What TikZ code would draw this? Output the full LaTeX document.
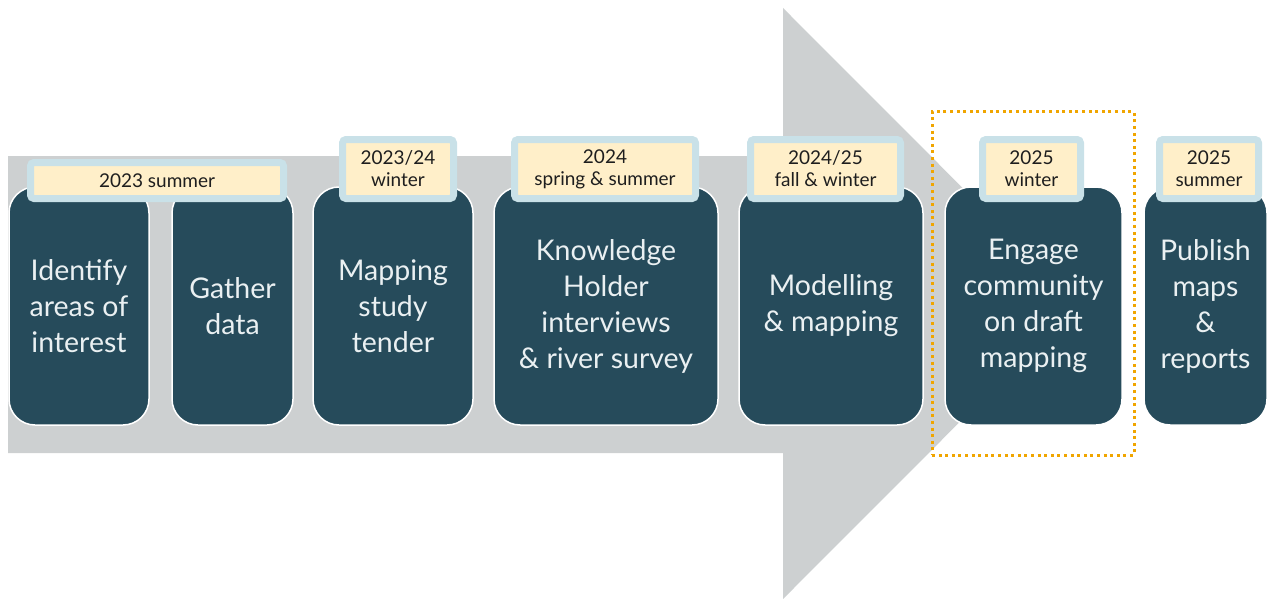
\documentclass[tikz,border=0pt]{standalone}
\usepackage{fontspec}
\setmainfont{Lato}
\definecolor{boxc}{HTML}{264B5B}
\definecolor{boxtext}{HTML}{EAF0F2}
\definecolor{labblue}{HTML}{C9E1E8}
\definecolor{labcream}{HTML}{FFEFC9}
\definecolor{labtext}{HTML}{1E1E1E}
\definecolor{arrowgray}{HTML}{CDD0D1}
\definecolor{hlorange}{HTML}{F0A500}
\begin{document}
\begin{tikzpicture}[x=1pt,y=-1pt,
  stepbox/.style={draw=white, line width=1.5pt, fill=boxc, rounded corners=26pt,
    text=boxtext, align=center, font=\fontsize{28.5}{36}\selectfont, inner sep=0pt,
    minimum height=238pt},
  datebox/.style={draw=labblue, line width=7pt, fill=labcream, rounded corners=3.5pt,
    text=labtext, align=center, font=\fontsize{19}{22}\selectfont, inner sep=0pt,
    minimum height=59pt},
  highlight/.style={draw=hlorange, line width=3pt, dash pattern=on 3pt off 3.6pt,
    inner sep=0pt, minimum width=202pt, minimum height=343pt}
]
\useasboundingbox (0,0) rectangle (1268,599);

% big gray arrow
\fill[arrowgray] (8,156) -- (783,156) -- (783,8) -- (1078,303.5) -- (783,599)
  -- (783,453) -- (8,453) -- cycle;

% step boxes
\node[stepbox, minimum width=140pt] (b1) at (79,306) {Identify\\areas of\\interest};
\node[stepbox, minimum width=121pt] (b2) at (232.5,306) {Gather\\data};
\node[stepbox, minimum width=160pt] (b3) at (393,306) {Mapping\\study\\tender};
\node[stepbox, minimum width=224pt] (b4) at (606,306) {Knowledge\\Holder\\interviews\\\& river survey};
\node[stepbox, minimum width=184pt] (b5) at (831,306) {Modelling\\\& mapping};
\node[stepbox, minimum width=177pt] (b6) at (1033.5,306) {Engage\\community\\on draft\\mapping};
\node[stepbox, minimum width=123pt] (b7) at (1205.5,306) {Publish\\maps\\\&\\reports};

% date labels
\node[datebox, minimum width=253pt, minimum height=36pt] (l1) at (157,180.5) {2023 summer};
\node[datebox, minimum width=111pt] (l2) at (398,169) {2023/24\\winter};
\node[datebox, minimum width=181pt] (l3) at (605,169) {2024\\spring \& summer};
\node[datebox, minimum width=150pt] (l4) at (825.5,169) {2024/25\\fall \& winter};
\node[datebox, minimum width=98pt] (l5) at (1031.5,169) {2025\\winter};
\node[datebox, minimum width=99pt] (l6) at (1209,169) {2025\\summer};

% highlight frame
\node[highlight] (focus) at (1033,283.5) {};
\end{tikzpicture}
\end{document}
